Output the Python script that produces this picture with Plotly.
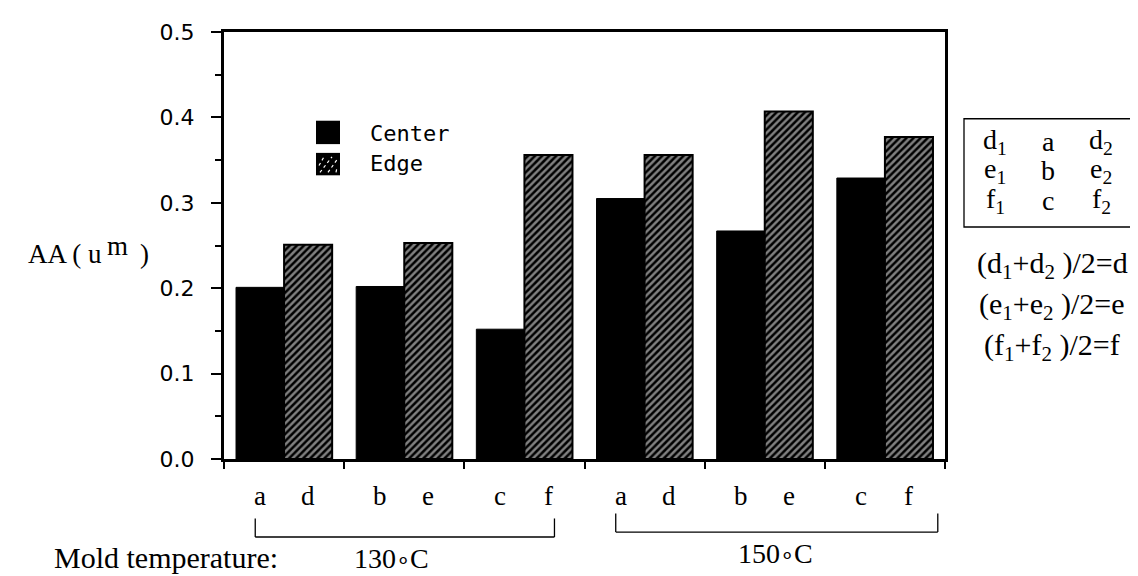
import plotly.graph_objects as go

# ---- data ----
groups = ["130-a", "130-b", "130-c", "150-a", "150-b", "150-c"]
center_labels = ["a", "b", "c", "a", "b", "c"]
edge_labels = ["d", "e", "f", "d", "e", "f"]
center_vals = [0.201, 0.202, 0.152, 0.305, 0.267, 0.329]
edge_vals = [0.251, 0.253, 0.356, 0.356, 0.407, 0.377]
y_ticks = [0.0, 0.1, 0.2, 0.3, 0.4, 0.5]
temps = ["130", "150"]

W, H = 1138, 576
L, R, T, B = 216, 937, 13, 451   # plot area in pixels


def px(x):
    return (x - L) / (R - L)


def py(y):
    return (B - y) / (B - T)


xs = list(range(len(groups)))
serif = "Liberation Serif, Times New Roman, serif"
sans = "DejaVu Sans, Verdana, sans-serif"
mono = "DejaVu Sans Mono, monospace"


def ann(x, y, text, size, family=serif, xanchor="center", yanchor="middle",
        xref="paper", yref="paper", **kw):
    d = dict(x=x, y=y, xref=xref, yref=yref, text=text, showarrow=False,
             xanchor=xanchor, yanchor=yanchor,
             font=dict(family=family, size=size, color="black"))
    d.update(kw)
    return d


def temp_text(t):
    return f"{t}<span style='font-size:23px'>∘</span>C"


fig = go.Figure()
fig.add_trace(go.Bar(x=xs, y=center_vals, name="Center",
                     marker=dict(color="black", line=dict(color="black", width=1))))
fig.add_trace(go.Bar(x=xs, y=edge_vals, name="Edge",
                     marker=dict(color="black", line=dict(color="black", width=2),
                                 pattern=dict(shape="/", fgcolor="white", bgcolor="black",
                                              size=5, solidity=0.5))))

annotations = []
# category letters under each bar
for i in xs:
    annotations.append(ann(i - 0.2, 0, center_labels[i], 27, xref="x", yref="y",
                           yanchor="top", yshift=-20))
    annotations.append(ann(i + 0.2, 0, edge_labels[i], 27, xref="x", yref="y",
                           yanchor="top", yshift=-20))

shapes = []
# temperature brackets
n_per = 3
br_right = [0.25, 0.44]
br_y = [(512, 531), (507, 526)]
for k in range(len(temps)):
    x0 = k * n_per - 0.24
    x1 = k * n_per + n_per - 1 + br_right[k]
    y_top, y_bot = py(br_y[k][0]), py(br_y[k][1])
    for xx in (x0, x1):
        shapes.append(dict(type="line", xref="x", yref="paper", x0=xx, x1=xx,
                           y0=y_top, y1=y_bot, line=dict(color="black", width=1.3)))
    shapes.append(dict(type="line", xref="x", yref="paper", x0=x0, x1=x1,
                       y0=y_bot, y1=y_bot, line=dict(color="black", width=1.3)))

annotations.append(ann(0.89, py(553), temp_text(temps[0]), 28, xref="x"))
annotations.append(ann(4.09, py(548), temp_text(temps[1]), 28, xref="x"))
annotations.append(ann(px(44), py(552), "Mold temperature:", 30, xanchor="left"))

# y-axis title  "AA ( u m )" with raised m
annotations.append(ann(px(96), py(241), "AA ( u", 27, xanchor="right"))
annotations.append(ann(px(97), py(233), "m", 27, xanchor="left"))
annotations.append(ann(px(130), py(241), ")", 27, xanchor="left"))

# custom legend
sw_x0, sw_x1 = 308, 332
shapes.append(dict(type="rect", xref="paper", yref="paper", x0=px(sw_x0), x1=px(sw_x1),
                   y0=py(104), y1=py(128), fillcolor="black", line=dict(width=0)))
shapes.append(dict(type="rect", xref="paper", yref="paper", x0=px(sw_x0), x1=px(sw_x1),
                   y0=py(137), y1=py(160), fillcolor="black", line=dict(width=0)))
for off in (-10, -2, 6, 14):
    xa, ya = sw_x0 + 6 + off, 157
    xb, yb = xa + 12, 141
    xa2, ya2 = max(xa, sw_x0 + 3), ya - (max(xa, sw_x0 + 3) - xa)
    xb2, yb2 = min(xb, sw_x1 - 3), yb + (xb - min(xb, sw_x1 - 3))
    if xb2 > xa2:
        shapes.append(dict(type="line", xref="paper", yref="paper", x0=px(xa2), x1=px(xb2),
                           y0=py(ya2), y1=py(yb2),
                           line=dict(color="white", width=1.2, dash="dot")))
annotations.append(ann(px(360), py(117), "Center", 22, family=mono, xanchor="left"))
annotations.append(ann(px(360), py(148), "Edge", 22, family=mono, xanchor="left"))

# right-hand key box
shapes.append(dict(type="rect", xref="paper", yref="paper", x0=px(956), x1=px(1132),
                   y0=py(102), y1=py(213), line=dict(color="black", width=1.3)))
rows = [("d", "a"), ("e", "b"), ("f", "c")]
row_y = [125, 155, 186]
for (s, c), yy in zip(rows, row_y):
    for xx, txt in ((987, f"{s}<sub>1</sub>"), (1040, c), (1093, f"{s}<sub>2</sub>")):
        annotations.append(ann(px(xx), py(yy), txt, 28))
eq_y = [252, 294, 336]
for (s, _), yy in zip(rows, eq_y):
    annotations.append(ann(px(1044), py(yy),
                           f"({s}<sub>1</sub>+{s}<sub>2</sub> )/2={s}", 30))

fig.update_layout(
    width=W, height=H,
    margin=dict(l=L, r=W - R, t=T, b=H - B),
    paper_bgcolor="white", plot_bgcolor="white",
    barmode="group", bargap=0.2, bargroupgap=0,
    showlegend=False,
    annotations=annotations, shapes=shapes,
    xaxis=dict(range=[-0.5, len(groups) - 0.5], showgrid=False, zeroline=False,
               showline=True, linecolor="black", linewidth=3, mirror=True,
               tickmode="array", tickvals=[i - 0.5 for i in range(len(groups) + 1)],
               ticktext=["" for _ in range(len(groups) + 1)],
               ticks="outside", ticklen=7, tickwidth=2, tickcolor="black"),
    yaxis=dict(range=[0, 0.5], showgrid=False, zeroline=False,
               showline=True, linecolor="black", linewidth=3, mirror=True,
               tickmode="array", tickvals=y_ticks,
               ticktext=[f"{v:.1f}" for v in y_ticks],
               ticks="outside", ticklen=10, tickwidth=2, tickcolor="black",
               ticklabelstandoff=12,
               tickfont=dict(family=sans, size=22, color="black"),
               minor=dict(tickmode="linear", tick0=0.05, dtick=0.1, ticks="outside",
                          ticklen=6, tickwidth=2, tickcolor="black")),
)

fig.write_html("out.html")
